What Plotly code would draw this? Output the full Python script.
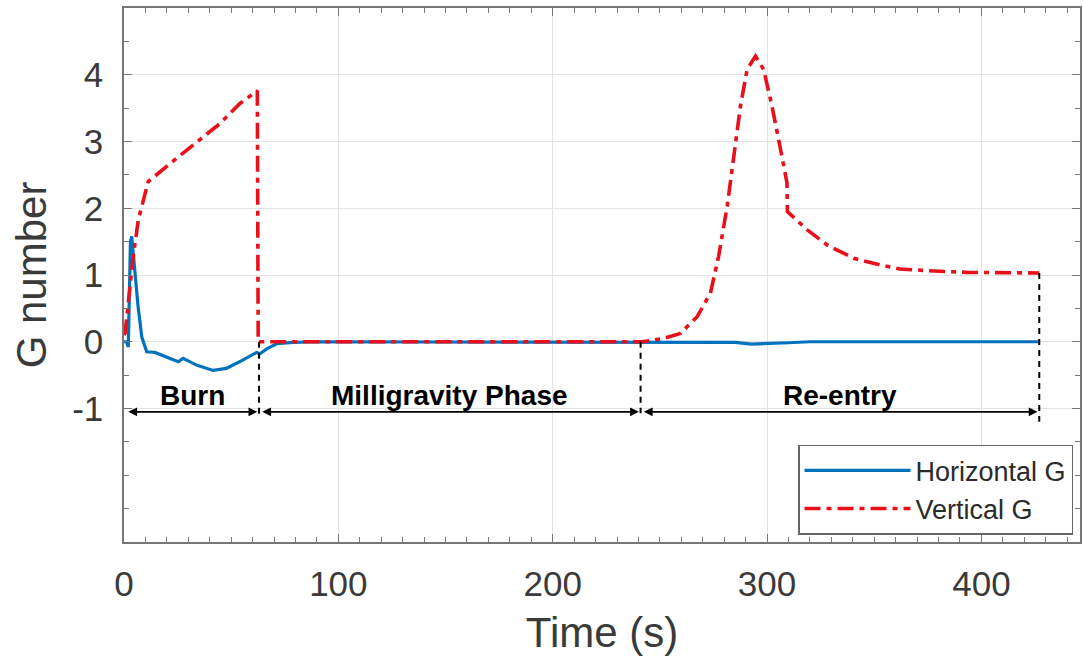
import plotly.graph_objects as go

# ---- data ----
t_horizontal = [0, 1.2, 2.0, 3.0, 3.6, 5.1, 6.5, 8.3, 10.6, 14.4, 19.9, 25.3, 27.6, 33.8, 41.5,
                47.7, 53.9, 61.9, 63.4, 67, 71.2, 79, 90, 150, 200, 241, 270, 285, 293, 300,
                310, 320, 360, 400, 427]
g_horizontal = [0, 0.0, -0.08, 1.50, 1.58, 1.07, 0.55, 0.07, -0.15, -0.16, -0.23, -0.30, -0.25, -0.35,
                -0.43, -0.40, -0.30, -0.16, -0.18, -0.10, -0.03, -0.01, 0, 0, 0, 0, 0, -0.01, -0.035,
                -0.03, -0.015, 0, 0, 0, 0]

t_vertical = [0, 0.5, 2.0, 4.3, 6.7, 11.3, 24.6, 35.4, 44.8, 54.1, 62.2, 62.6, 70, 150, 241.7,
              251.8, 259.6, 267.4, 273.6, 277.4, 281.4, 284.5, 287.6, 290.7, 294.6, 298.4, 302.3,
              305.4, 308.5, 309.3, 309.5, 318.6, 328, 340.4, 352.8, 362, 378, 393, 427]
g_vertical = [0.1, 0.13, 0.58, 1.28, 1.83, 2.40, 2.75, 3.03, 3.27, 3.57, 3.76, 0.0, 0.0, 0.0, 0.0,
              0.05, 0.125, 0.375, 0.73, 1.28, 2.03, 2.78, 3.53, 4.08, 4.28, 4.08, 3.53,
              3.03, 2.53, 2.38, 1.95, 1.68, 1.45, 1.25, 1.15, 1.09, 1.06, 1.04, 1.03]

series_names = ["Horizontal G", "Vertical G"]

phase_names = ["Burn", "Milligravity Phase", "Re-entry"]
phase_bounds = [0.5, 63, 241, 427]
boundary_tops = [0, 0, 1.03]          # curve value where each boundary line starts
boundary_bottoms = [-1.1, -1.07, -1.2]
arrow_level = -1.05
label_level = -0.8

x_ticks = [0, 100, 200, 300, 400]
y_ticks = [-1, 0, 1, 2, 3, 4]
y_tick_text = ["-1", "0", "1", "2", "3", "4"]

BLUE = "#0072BD"
RED = "#E8101A"
FONT = "Liberation Sans, Arial, sans-serif"
TXT = "#3a3a3a"
red_dash = "16px,6px,5px,6px"

fig = go.Figure()
fig.add_trace(go.Scatter(x=t_horizontal, y=g_horizontal, mode="lines", name=series_names[0],
                         line=dict(color=BLUE, width=3.2)))
fig.add_trace(go.Scatter(x=t_vertical, y=g_vertical, mode="lines", name=series_names[1],
                         line=dict(color=RED, width=3.6, dash=red_dash)))

# phase boundary dashed lines
for xb, top, bot in zip(phase_bounds[1:], boundary_tops, boundary_bottoms):
    fig.add_shape(type="line", x0=xb, x1=xb, y0=top, y1=bot, xref="x", yref="y",
                  line=dict(color="black", width=2, dash="6px,5px"))

# double headed arrows and labels
for i, name in enumerate(phase_names):
    a, b = phase_bounds[i], phase_bounds[i + 1]
    fig.add_annotation(x=b - 0.8, y=arrow_level, ax=a + 0.8, ay=arrow_level, xref="x", yref="y",
                       axref="x", ayref="y", text="", showarrow=True, arrowhead=2,
                       arrowside="end+start", arrowsize=1.1, arrowwidth=1.6, arrowcolor="black",
                       standoff=0, startstandoff=0)
    fig.add_annotation(x=(a + b) / 2, y=label_level, xref="x", yref="y",
                       text="<b>%s</b>" % name, showarrow=False,
                       font=dict(family=FONT, size=28, color="black"))

axis_common = dict(showline=True, linecolor="#777777", linewidth=1.5, mirror="ticks",
                   ticks="inside", tickcolor="#777777", showgrid=True, gridcolor="#e3e3e3",
                   gridwidth=1.2, zeroline=False, automargin=False,
                   tickfont=dict(family=FONT, size=35, color=TXT))

fig.update_xaxes(range=[0, 446], tickvals=x_ticks, ticklen=8,
                 minor=dict(tickmode="linear", tick0=0, dtick=10, ticks="inside", ticklen=5,
                            tickcolor="#777777", showgrid=False),
                 title=dict(text="Time (s)", font=dict(family=FONT, size=42, color=TXT),
                            standoff=16),
                 ticklabelstandoff=10, **axis_common)
fig.update_yaxes(range=[-3, 5], tickvals=y_ticks, ticktext=y_tick_text, ticklen=8,
                 minor=dict(tickmode="linear", tick0=0, dtick=0.5, ticks="inside", ticklen=5,
                            tickcolor="#777777", showgrid=False),
                 title=dict(text="G number", font=dict(family=FONT, size=42, color=TXT),
                            standoff=12),
                 ticklabelstandoff=12, **axis_common)

fig.update_layout(width=1083, height=657, margin=dict(l=124, r=3, t=8, b=115),
                  plot_bgcolor="white", paper_bgcolor="white",
                  showlegend=True,
                  legend=dict(x=0.9927, xanchor="right", y=0.182, yanchor="top",
                              bgcolor="white", bordercolor="#666666", borderwidth=1.5,
                              font=dict(family=FONT, size=27, color="#2a2a2a"),
                              itemwidth=106, tracegroupgap=0))

fig.write_html("out.html", config={"displayModeBar": False},
               post_script="document.body.style.margin='0';")
